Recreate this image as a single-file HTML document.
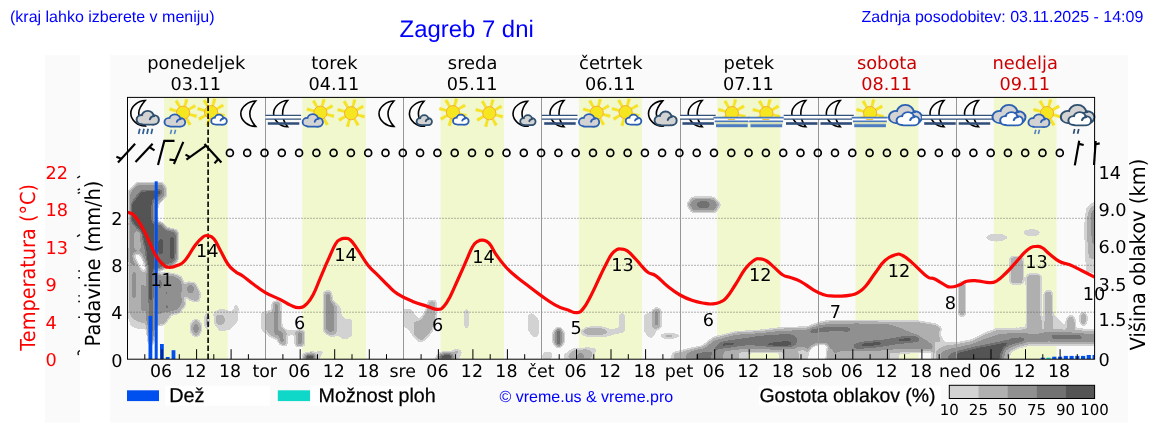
<!DOCTYPE html>
<html lang="sl"><head><meta charset="utf-8"><title>Zagreb 7 dni</title>
<style>
html,body{margin:0;padding:0;background:#fff;}
body{width:1152px;height:443px;overflow:hidden;position:relative;}
svg{position:absolute;left:0;top:0;display:block;will-change:transform;}
text{text-rendering:geometricPrecision;}
.a{font-family:"Liberation Sans",sans-serif;}
.d{font-family:"DejaVu Sans","Liberation Sans",sans-serif;}
</style></head><body>
<svg width="1152" height="443" viewBox="0 0 1152 443">
<defs>
<clipPath id="plotclip"><rect x="127.5" y="97.4" width="967.1" height="261.8"/></clipPath>

</defs>
<rect x="45" y="55" width="35" height="367.5" fill="#fafafa"/>
<rect x="110" y="55" width="1018" height="367.5" fill="#fafafa"/>
<rect x="164.0" y="97.4" width="63.7" height="261.8" fill="#f1f8cd"/>
<rect x="302.3" y="97.4" width="63.6" height="261.8" fill="#f1f8cd"/>
<rect x="440.6" y="97.4" width="63.4" height="261.8" fill="#f1f8cd"/>
<rect x="578.9" y="97.4" width="63.2" height="261.8" fill="#f1f8cd"/>
<rect x="717.2" y="97.4" width="63.1" height="261.8" fill="#f1f8cd"/>
<rect x="855.5" y="97.4" width="63.0" height="261.8" fill="#f1f8cd"/>
<rect x="993.8" y="97.4" width="62.8" height="261.8" fill="#f1f8cd"/>
<filter id="cl" filterUnits="userSpaceOnUse" x="100" y="150" width="1020" height="230" color-interpolation-filters="sRGB"><feGaussianBlur stdDeviation="1.7"/><feColorMatrix type="matrix" values="1 0 0 0 0 0 1 0 0 0 0 0 1 0 0 1 0 0 0 0"/><feComponentTransfer><feFuncR type="discrete" tableValues="1.000 1.000 0.824 0.824 0.824 0.690 0.690 0.690 0.690 0.690 0.565 0.565 0.565 0.565 0.565 0.447 0.447 0.447 0.333 0.333"/><feFuncG type="discrete" tableValues="1.000 1.000 0.824 0.824 0.824 0.690 0.690 0.690 0.690 0.690 0.565 0.565 0.565 0.565 0.565 0.447 0.447 0.447 0.333 0.333"/><feFuncB type="discrete" tableValues="1.000 1.000 0.824 0.824 0.824 0.690 0.690 0.690 0.690 0.690 0.565 0.565 0.565 0.565 0.565 0.447 0.447 0.447 0.333 0.333"/><feFuncA type="discrete" tableValues="0 0 1 1 1 1 1 1 1 1 1 1 1 1 1 1 1 1 1 1"/></feComponentTransfer></filter><g clip-path="url(#plotclip)"><g filter="url(#cl)"><rect x="90" y="140" width="1040" height="250" fill="#000"/><polygon points="128.6,200.0 128.6,190.4 136.4,182.0 162.4,182.0 166.5,186.5 166.8,196.0 158.5,205.0 156.9,212.0 158.0,222.0 150.0,226.0 128.6,226.0" fill="#2e2e2e"/>
<polygon points="129.3,226.0 129.3,192.5 137.6,184.0 161.8,184.0 164.9,187.5 165.1,195.6 157.5,203.5 155.8,211.0 156.6,224.0 150.0,226.0" fill="#a1a1a1"/>
<polygon points="130.8,228.0 130.8,204.0 141.0,190.4 161.8,189.9 162.4,192.7 157.9,196.2 153.2,200.6 152.4,207.3 152.6,230.0 140.0,232.0" fill="#fafafa"/>
<polygon points="129.0,222.0 156.5,222.0 156.5,300.0 155.5,330.0 153.0,342.0 150.5,346.0 148.5,340.0 147.5,328.0 140.0,328.5 131.0,326.0 128.7,318.0" fill="#a1a1a1"/>
<polygon points="129.5,264.0 147.5,268.0 147.6,327.0 140.0,328.5 131.0,326.0 128.7,318.0" fill="#616161"/>
<polyline points="134.2,272.0 134.0,298.0" fill="none" stroke="#a1a1a1" stroke-width="3.2" stroke-linecap="round" stroke-linejoin="round"/>
<polyline points="142.6,286.0 143.0,310.0" fill="none" stroke="#a1a1a1" stroke-width="4.0" stroke-linecap="round" stroke-linejoin="round"/>
<ellipse cx="138.5" cy="323.5" rx="1.6" ry="1.4" fill="#a1a1a1"/>
<polygon points="128.7,312.0 133.0,318.0 140.0,322.0 147.5,322.0 147.5,329.0 140.0,329.5 131.0,327.0 128.7,319.0" fill="#2e2e2e"/>
<polygon points="134.2,231.0 140.8,231.0 140.8,250.0 134.2,250.0" fill="#616161"/>
<ellipse cx="137.8" cy="235.5" rx="1.8" ry="2.5" fill="#2e2e2e"/>
<polygon points="133.2,253.0 140.5,252.0 146.6,265.0 146.9,273.5 142.0,272.0 136.6,264.0 133.4,259.0" fill="#2e2e2e"/>
<polygon points="134.6,255.0 139.6,254.4 145.6,266.5 145.9,271.6 142.6,270.4 137.6,262.5" fill="#000000"/>
<polygon points="131.9,222.0 153.9,222.0 154.2,300.0 154.0,322.0 152.0,338.0 149.5,338.0 147.7,322.0 147.4,272.0 145.4,250.2 140.9,233.3" fill="#fafafa"/>
<polygon points="147.5,300.0 154.2,300.0 154.0,324.0 152.0,340.0 149.5,340.0 147.6,324.0" fill="#d4d4d4"/>
<polygon points="154.0,222.0 157.3,222.6 161.3,223.2 166.9,228.8 175.9,230.5 177.6,234.4 177.2,259.3 173.6,264.5 166.9,266.0 161.3,269.5 154.0,270.0" fill="#d4d4d4"/>
<polyline points="160.7,241.0 160.7,252.5" fill="none" stroke="#fafafa" stroke-width="4.6" stroke-linecap="round" stroke-linejoin="round"/>
<polyline points="171.9,238.0 171.9,258.0" fill="none" stroke="#fafafa" stroke-width="3.6" stroke-linecap="round" stroke-linejoin="round"/>
<polygon points="154.0,270.0 157.2,273.5 171.4,273.5 180.9,276.6 184.0,284.5 187.2,282.2 195.1,283.0 200.6,294.0 198.2,301.9 190.3,300.3 184.0,295.6 185.6,305.0 179.3,313.0 171.4,314.6 165.0,324.0 158.0,325.6 154.0,326.0" fill="#616161"/>
<polygon points="157.0,272.0 160.4,275.5 172.0,275.5 180.0,279.0 182.4,286.0 181.0,294.0 182.0,302.0 178.0,309.0 171.0,311.5 163.0,312.0 158.0,316.0 157.0,300.0" fill="#a1a1a1"/>
<ellipse cx="166.7" cy="293.2" rx="1.8" ry="2.6" fill="#d4d4d4"/>
<ellipse cx="166.7" cy="306.6" rx="2.0" ry="2.8" fill="#d4d4d4"/>
<ellipse cx="173.0" cy="280.6" rx="1.6" ry="1.6" fill="#d4d4d4"/>
<ellipse cx="160.0" cy="284.0" rx="2.2" ry="6.0" fill="#d4d4d4"/>
<ellipse cx="190.6" cy="289.2" rx="3.4" ry="4.6" fill="#a1a1a1"/>
<ellipse cx="196.0" cy="328.0" rx="5.5" ry="8.5" fill="#616161"/>
<ellipse cx="196.0" cy="328.5" rx="2.8" ry="5.0" fill="#a1a1a1"/>
<ellipse cx="207.0" cy="321.0" rx="3.2" ry="9.0" fill="#2e2e2e"/>
<ellipse cx="207.0" cy="321.0" rx="1.4" ry="5.0" fill="#616161"/>
<polygon points="213.0,312.0 222.0,308.0 232.0,312.0 235.0,304.0 239.0,306.0 238.0,322.0 230.0,330.0 220.0,332.0 214.0,324.0" fill="#2e2e2e"/>
<ellipse cx="220.0" cy="320.0" rx="4.5" ry="5.0" fill="#616161"/>
<polygon points="261.0,312.0 266.0,310.5 272.0,310.0 272.4,301.0 281.0,300.6 282.0,326.0 287.0,330.0 295.0,330.0 295.5,335.0 287.4,336.0 287.0,346.7 280.0,345.0 277.6,340.0 272.0,338.0 266.0,334.0 261.0,330.0" fill="#2e2e2e"/>
<polygon points="266.5,313.5 272.4,313.0 272.8,302.5 280.6,302.5 281.0,327.0 286.0,331.5 286.5,345.0 281.0,344.0 277.8,338.5 272.6,336.5 267.0,332.0" fill="#616161"/>
<polyline points="276.2,304.5 276.2,334.0" fill="none" stroke="#a1a1a1" stroke-width="3.6" stroke-linecap="round" stroke-linejoin="round"/>
<polyline points="280.5,333.0 281.8,341.5" fill="none" stroke="#a1a1a1" stroke-width="4.2" stroke-linecap="round" stroke-linejoin="round"/>
<polygon points="295.4,330.5 304.2,330.5 304.2,346.0 295.4,346.0" fill="#616161"/>
<polyline points="299.8,333.0 299.8,343.5" fill="none" stroke="#a1a1a1" stroke-width="4.2" stroke-linecap="round" stroke-linejoin="round"/>
<polyline points="299.8,336.0 299.8,342.0" fill="none" stroke="#d4d4d4" stroke-width="1.2" stroke-linecap="round" stroke-linejoin="round"/>
<polygon points="323.6,291.0 331.0,290.2 332.5,300.0 336.7,304.0 340.5,306.0 342.0,316.0 346.0,319.0 352.0,318.5 352.3,336.0 345.0,340.6 338.0,336.0 331.0,337.0 323.6,333.0" fill="#2e2e2e"/>
<polygon points="324.4,292.5 330.6,291.8 331.6,301.0 336.0,305.5 336.2,333.0 331.0,335.5 324.4,331.5" fill="#616161"/>
<polygon points="325.6,293.5 330.0,293.0 330.8,302.0 334.8,306.5 334.8,330.0 330.6,332.5 325.6,329.5" fill="#a1a1a1"/>
<polygon points="302.0,353.5 312.0,352.0 319.3,351.0 324.5,350.2 322.0,354.5 319.3,360.0 302.0,360.0" fill="#2e2e2e"/>
<polygon points="304.5,356.0 308.0,353.8 313.0,353.8 315.5,356.0 315.0,360.0 304.5,360.0" fill="#fafafa"/>
<polygon points="402.3,309.0 411.5,308.7 416.0,316.0 420.4,318.5 425.6,310.0 428.0,300.0 436.3,300.0 436.8,318.0 432.6,332.0 424.0,341.5 418.0,342.5 412.0,335.0 407.0,328.5 402.3,327.0" fill="#2e2e2e"/>
<polygon points="414.0,322.5 420.4,320.9 426.9,311.1 428.8,301.6 435.2,301.6 435.8,316.0 431.0,330.7 422.0,340.4 414.7,335.5" fill="#616161"/>
<polyline points="466.6,310.5 466.6,326.5" fill="none" stroke="#4c4c4c" stroke-width="3.2" stroke-linecap="round" stroke-linejoin="round"/>
<polygon points="432.6,360.0 438.3,352.6 449.7,351.8 456.2,348.5 462.7,351.0 461.0,355.0 458.6,360.0" fill="#2e2e2e"/>
<polygon points="439.0,356.0 442.0,353.4 452.0,353.4 453.6,356.0 452.9,360.0 439.0,360.0" fill="#fafafa"/>
<ellipse cx="456.2" cy="351.8" rx="2.4" ry="1.6" fill="#616161"/>
<polygon points="527.6,314.7 531.3,312.4 535.1,314.7 539.4,320.0 539.4,332.8 536.6,338.1 533.6,337.4 527.6,330.5" fill="#2e2e2e"/>
<polygon points="553.0,332.0 558.6,326.8 564.2,332.0 564.2,343.0 558.6,348.0 553.0,343.0" fill="#616161"/>
<polyline points="558.6,331.5 558.6,343.5" fill="none" stroke="#fafafa" stroke-width="4.4" stroke-linecap="round" stroke-linejoin="round"/>
<polygon points="542.0,359.5 542.0,354.0 546.0,351.0 552.5,352.0 552.5,359.5" fill="#2e2e2e"/>
<polygon points="562.4,359.5 564.0,354.0 572.0,348.5 590.0,347.2 598.7,349.0 594.0,354.0 592.6,359.5" fill="#2e2e2e"/>
<polygon points="568.4,359.5 569.5,354.0 575.0,350.0 588.0,349.6 592.0,353.0 591.0,359.5" fill="#616161"/>
<polygon points="576.7,359.5 577.0,353.5 584.0,353.5 584.3,359.5" fill="#a1a1a1"/>
<polygon points="579.8,331.7 586.0,327.0 600.0,326.0 612.0,329.0 619.0,327.5 619.0,313.0 625.0,313.0 625.0,332.8 616.8,334.0 606.0,337.0 590.0,337.4 583.0,336.0" fill="#2e2e2e"/>
<polygon points="581.6,331.5 587.0,328.6 600.0,328.3 608.5,331.4 602.0,334.4 588.0,334.6" fill="#616161"/>
<polyline points="587.0,331.4 603.0,331.2" fill="none" stroke="#a1a1a1" stroke-width="1.6" stroke-linecap="round" stroke-linejoin="round"/>
<polygon points="643.3,314.7 651.6,311.6 656.1,307.1 661.4,310.1 661.4,327.5 656.1,331.3 654.6,335.8 650.1,338.9 643.3,331.3" fill="#2e2e2e"/>
<polygon points="652.2,311.0 656.3,308.2 660.6,310.5 660.6,326.5 656.3,329.0 652.2,327.0" fill="#616161"/>
<polyline points="656.5,311.5 656.5,324.5" fill="none" stroke="#a1a1a1" stroke-width="3.4" stroke-linecap="round" stroke-linejoin="round"/>
<ellipse cx="669.6" cy="335.9" rx="10.6" ry="3.1" fill="#2e2e2e"/>
<ellipse cx="669.0" cy="335.9" rx="5.0" ry="1.2" fill="#616161"/>
<polygon points="686.2,204.6 691.5,197.0 714.5,197.0 721.6,204.6 716.0,212.8 691.5,212.8" fill="#2e2e2e"/>
<polygon points="688.6,204.6 693.0,198.6 713.0,198.6 718.6,204.6 714.0,211.2 693.0,211.2" fill="#a1a1a1"/>
<polygon points="695.5,204.6 698.5,200.8 708.0,200.8 711.0,204.6 708.0,208.6 698.5,208.6" fill="#d4d4d4"/>
<ellipse cx="703.2" cy="204.8" rx="2.2" ry="1.2" fill="#fafafa"/>
<polygon points="668.0,362.0 673.0,352.3 692.3,347.6 702.5,345.6 713.3,336.8 735.0,331.4 760.9,329.7 780.2,327.3 807.0,326.5 819.0,322.0 829.0,320.1 858.7,319.8 918.3,320.6 936.2,323.6 942.2,328.0 940.7,334.7 945.0,342.2 950.0,346.0 950.0,362.0" fill="#2e2e2e"/>
<polygon points="676.0,362.0 673.0,353.9 692.3,349.2 702.5,347.2 713.3,338.4 735.0,333.0 760.9,331.3 780.2,328.9 807.0,328.1 819.0,323.6 829.0,321.7 858.7,321.4 918.3,322.2 936.2,325.2 942.2,329.6 939.5,329.0 938.0,335.0 942.0,343.0 947.0,349.0 947.0,362.0" fill="#616161"/>
<polygon points="685.0,362.0 687.0,353.0 694.0,350.0 704.0,348.0 715.0,340.3 735.0,334.6 760.9,332.9 780.2,330.7 806.0,329.8 819.0,325.4 830.0,323.6 858.0,323.2 890.0,324.6 903.0,329.0 918.0,335.0 930.0,340.0 936.0,345.0 932.0,349.0 900.0,349.0 880.0,350.5 860.0,350.5 842.0,350.5 833.0,354.0 832.0,362.0 808.0,362.0 806.0,347.0 797.0,346.5 796.0,349.0 780.0,350.0 760.0,349.0 748.0,348.5 735.0,350.0 724.0,351.0 723.0,362.0" fill="#a1a1a1"/>
<polygon points="695.0,362.0 696.0,352.5 712.0,351.5 714.7,347.5 720.0,342.0 735.5,339.0 748.0,337.2 760.0,335.3 780.0,333.9 792.0,334.0 797.3,337.5 797.3,343.0 795.0,346.3 780.0,347.2 760.0,346.2 748.0,345.4 735.0,347.2 719.0,349.6 712.0,353.0 711.0,362.0" fill="#d4d4d4"/>
<polyline points="722.5,344.6 729.0,343.8 734.0,343.8" fill="none" stroke="#fafafa" stroke-width="2.6" stroke-linecap="round" stroke-linejoin="round"/>
<polygon points="765.5,344.0 776.0,342.0 789.0,341.2 792.6,343.8 790.0,346.4 768.0,346.2" fill="#fafafa"/>
<polygon points="723.6,351.5 738.5,351.0 738.5,362.0 723.6,362.0" fill="#616161"/>
<polygon points="738.5,351.5 748.0,352.0 748.0,362.0 738.5,362.0" fill="#2e2e2e"/>
<polygon points="748.0,352.5 778.8,352.0 778.8,362.0 748.0,362.0" fill="#000000"/>
<polygon points="778.8,351.0 783.2,350.6 798.0,350.0 807.0,349.6 807.0,362.0 778.8,362.0" fill="#2e2e2e"/>
<polygon points="783.2,352.0 798.0,351.5 799.0,362.0 783.2,362.0" fill="#616161"/>
<polygon points="807.0,362.0 808.0,351.0 812.0,346.0 818.0,343.8 826.0,343.8 828.6,346.0 827.0,352.0 826.4,362.0" fill="#000000"/>
<polygon points="826.4,362.0 827.5,350.0 833.0,348.0 833.0,362.0" fill="#616161"/>
<polygon points="874.0,351.5 889.0,351.5 889.0,362.0 874.0,362.0" fill="#616161"/>
<polygon points="889.0,352.0 899.0,352.5 899.0,362.0 889.0,362.0" fill="#2e2e2e"/>
<polygon points="899.0,353.0 932.0,351.5 932.0,362.0 899.0,362.0" fill="#000000"/>
<polygon points="932.0,350.5 941.0,349.5 947.0,349.0 950.0,349.0 950.0,362.0 932.0,362.0" fill="#616161"/>
<polyline points="812.0,331.2 824.0,329.5 834.0,328.8 848.0,329.4" fill="none" stroke="#d4d4d4" stroke-width="5.4" stroke-linecap="round" stroke-linejoin="round"/>
<polyline points="857.0,346.2 880.0,343.6 900.0,340.2 916.0,338.8" fill="none" stroke="#d4d4d4" stroke-width="7.5" stroke-linecap="round" stroke-linejoin="round"/>
<polyline points="862.5,344.7 880.0,343.3" fill="none" stroke="#fafafa" stroke-width="3.4" stroke-linecap="round" stroke-linejoin="round"/>
<polyline points="899.5,340.0 910.5,339.5" fill="none" stroke="#fafafa" stroke-width="3.0" stroke-linecap="round" stroke-linejoin="round"/>
<polygon points="905.0,323.0 918.0,322.8 933.0,325.8 938.0,329.0 936.0,335.0 940.0,343.0 934.0,346.0 926.0,340.0 914.0,334.0 903.0,329.0" fill="#616161"/>
<polyline points="920.0,327.6 925.0,327.6" fill="none" stroke="#a1a1a1" stroke-width="1.2" stroke-linecap="round" stroke-linejoin="round"/>
<polyline points="962.0,285.0 962.0,313.0" fill="none" stroke="#616161" stroke-width="6.5" stroke-linecap="round" stroke-linejoin="round"/>
<polygon points="934.0,340.7 945.0,342.0 956.4,342.2 971.3,339.2 986.2,331.8 996.6,328.0 1026.4,327.3 1060.0,327.5 1096.0,329.0 1096.0,346.0 1060.0,345.5 1032.0,345.5 1020.0,348.0 1012.0,352.0 1008.0,362.0 934.0,362.0" fill="#2e2e2e"/>
<polygon points="937.0,350.0 946.0,346.0 956.4,344.5 971.3,341.5 986.2,334.4 997.0,330.5 1026.4,329.8 1060.0,330.0 1096.0,331.5 1096.0,344.0 1060.0,343.6 1030.0,343.6 1018.0,346.5 1009.0,351.0 1005.0,362.0 937.0,362.0" fill="#616161"/>
<polygon points="941.0,352.5 949.0,349.0 956.4,347.4 972.0,344.0 986.0,338.5 998.0,334.5 1012.0,333.0 1030.0,332.6 1060.0,332.6 1096.0,334.0 1096.0,342.0 1060.0,341.6 1028.0,342.0 1016.0,345.0 1006.0,350.0 1002.5,362.0 941.0,362.0" fill="#a1a1a1"/>
<polygon points="947.5,356.0 952.0,352.6 956.4,351.0 975.0,346.6 990.0,343.4 1004.0,340.6 1012.0,338.6 1022.0,337.6 1027.0,339.6 1022.0,342.4 1010.0,345.4 1004.0,349.0 1001.0,362.0 947.5,362.0" fill="#d4d4d4"/>
<polygon points="956.4,362.0 956.8,353.0 978.7,347.6 996.6,344.2 1006.0,342.0 1008.0,344.0 1003.0,348.0 1000.5,353.0 999.0,362.0" fill="#fafafa"/>
<polyline points="1011.0,340.6 1021.0,339.4" fill="none" stroke="#fafafa" stroke-width="2.4" stroke-linecap="round" stroke-linejoin="round"/>
<polyline points="1053.0,337.0 1066.0,336.4 1080.0,337.2" fill="none" stroke="#d4d4d4" stroke-width="5.2" stroke-linecap="round" stroke-linejoin="round"/>
<rect x="1009.9" y="256.8" width="13.3" height="27.2" rx="3.0" fill="#616161"/>
<rect x="1026.5" y="274.2" width="14.5" height="59.8" rx="3.0" fill="#616161"/>
<rect x="1044.6" y="290.8" width="7.6" height="41.2" rx="3.0" fill="#616161"/>
<polygon points="1041.0,318.0 1044.6,318.0 1044.6,330.0 1041.0,330.0" fill="#2e2e2e"/>
<polygon points="1052.0,312.0 1058.0,318.0 1064.0,324.0 1066.0,330.0 1052.0,330.0" fill="#2e2e2e"/>
<ellipse cx="1070.8" cy="324.0" rx="4.6" ry="8.5" fill="#616161"/>
<ellipse cx="1083.4" cy="318.7" rx="3.6" ry="6.6" fill="#616161"/>
<ellipse cx="996.6" cy="237.5" rx="11.5" ry="4.0" fill="#2e2e2e"/>
<ellipse cx="996.3" cy="238.6" rx="2.6" ry="0.9" fill="#616161"/>
<ellipse cx="1031.7" cy="232.8" rx="8.8" ry="3.8" fill="#2e2e2e"/>
<polygon points="1086.0,272.0 1084.5,250.0 1084.0,225.0 1086.0,208.0 1092.0,202.0 1100.0,202.0 1100.0,274.0" fill="#2e2e2e"/>
<polygon points="1089.5,258.0 1087.5,235.0 1088.0,214.0 1092.0,206.0 1100.0,206.0 1100.0,260.0" fill="#616161"/>
<polygon points="1092.5,244.0 1090.6,228.0 1091.0,214.0 1094.0,209.0 1100.0,209.0 1100.0,246.0" fill="#a1a1a1"/></g></g>
<line x1="127.5" y1="218.3" x2="1094.6" y2="218.3" stroke="#505050" stroke-width="0.85" stroke-dasharray="1 2"/>
<line x1="127.5" y1="265.3" x2="1094.6" y2="265.3" stroke="#505050" stroke-width="0.85" stroke-dasharray="1 2"/>
<line x1="127.5" y1="312.2" x2="1094.6" y2="312.2" stroke="#505050" stroke-width="0.85" stroke-dasharray="1 2"/>
<line x1="265.5" y1="97.4" x2="265.5" y2="359.2" stroke="#979797" stroke-width="1"/>
<line x1="403.5" y1="97.4" x2="403.5" y2="359.2" stroke="#979797" stroke-width="1"/>
<line x1="541.5" y1="97.4" x2="541.5" y2="359.2" stroke="#979797" stroke-width="1"/>
<line x1="680.5" y1="97.4" x2="680.5" y2="359.2" stroke="#979797" stroke-width="1"/>
<line x1="818.5" y1="97.4" x2="818.5" y2="359.2" stroke="#979797" stroke-width="1"/>
<line x1="956.5" y1="97.4" x2="956.5" y2="359.2" stroke="#979797" stroke-width="1"/>
<g clip-path="url(#plotclip)"><rect x="148.5" y="315.9" width="3.8" height="43.1" fill="#0050f0"/><rect x="154.7" y="181.3" width="3.0" height="177.7" fill="#0050f0"/><rect x="160.0" y="344.0" width="3.8" height="15.0" fill="#0050f0"/><rect x="165.8" y="357.0" width="3.8" height="2.0" fill="#0050f0"/><rect x="171.6" y="350.2" width="3.8" height="8.8" fill="#0050f0"/><rect x="1040.7" y="357.7" width="4.2" height="1.3" fill="#0050f0"/><rect x="1046.4" y="357.7" width="4.2" height="1.3" fill="#10d8c8"/><rect x="1052.2" y="356.7" width="4.2" height="2.3" fill="#0050f0"/><rect x="1058.0" y="356.7" width="4.2" height="2.3" fill="#0050f0"/><rect x="1063.7" y="355.9" width="4.2" height="3.1" fill="#0050f0"/><rect x="1069.5" y="355.9" width="4.2" height="3.1" fill="#0050f0"/><rect x="1075.2" y="355.9" width="4.2" height="3.1" fill="#0050f0"/><rect x="1081.0" y="355.9" width="4.2" height="3.1" fill="#0050f0"/><rect x="1086.7" y="355.0" width="4.2" height="4.0" fill="#0050f0"/><rect x="1092.5" y="355.0" width="4.2" height="4.0" fill="#0050f0"/></g>
<clipPath id="sunclip"><rect x="-20" y="-20" width="40" height="24.5"/></clipPath><g transform="translate(144.7 113.5)"><path d="M0.5 -13.0 C-6.5 -12.8 -13.9 -7.3 -13.9 -0.3 C-13.9 6.7 -6.5 12.7 0.5 12.4 C-3.0 8.4 -6.0 4.7 -6.0 -0.3 C-6.0 -5.3 -3.0 -9.0 0.5 -13.0Z" fill="#fcfcfc" stroke="#000" stroke-width="1.6" stroke-linejoin="miter"/><g transform="translate(-7.88 -2.48) scale(0.963 0.893)"><g fill="#2e4f6e" stroke="#2e4f6e" stroke-width="4.10"><circle cx="4.9" cy="9.6" r="4.1"/><circle cx="11.3" cy="5.9" r="5.1"/><circle cx="17.6" cy="9.9" r="4.3"/><rect x="4.9" y="8.5" width="12.7" height="5.7" rx="2"/></g><g fill="#d3d3d3"><circle cx="4.9" cy="9.6" r="4.1"/><circle cx="11.3" cy="5.9" r="5.1"/><circle cx="17.6" cy="9.9" r="4.3"/><rect x="4.9" y="8.5" width="12.7" height="5.7" rx="2"/></g><path d="M13.6 9.3 C14 7.3 15.6 5.9 18 5.8" fill="none" stroke="#2e4f6e" stroke-width="2.05" stroke-linecap="round"/></g><line x1="-4.9" y1="15.2" x2="-6.1" y2="20.5" stroke="#2d5d90" stroke-width="1.7"/><line x1="-0.7" y1="15.2" x2="-1.9" y2="20.5" stroke="#2d5d90" stroke-width="1.7"/><line x1="3.5" y1="15.2" x2="2.3" y2="20.5" stroke="#2d5d90" stroke-width="1.7"/><line x1="7.7" y1="15.2" x2="6.5" y2="20.5" stroke="#2d5d90" stroke-width="1.7"/></g>
<g transform="translate(179.2 113.5)"><g transform="translate(3.9 -0.8)"><polygon points="5.70,2.67 13.04,5.05 13.81,2.15 6.27,0.54" fill="#f6e420" stroke="#f2d83a" stroke-width="0.3"/><polygon points="2.15,5.92 5.65,12.79 8.25,11.29 4.05,4.82" fill="#f6e420" stroke="#f2d83a" stroke-width="0.3"/><polygon points="-2.67,5.70 -5.05,13.04 -2.15,13.81 -0.54,6.27" fill="#f6e420" stroke="#f2d83a" stroke-width="0.3"/><polygon points="-5.92,2.15 -12.79,5.65 -11.29,8.25 -4.82,4.05" fill="#f6e420" stroke="#f2d83a" stroke-width="0.3"/><polygon points="-5.70,-2.67 -13.04,-5.05 -13.81,-2.15 -6.27,-0.54" fill="#f6e420" stroke="#f2d83a" stroke-width="0.3"/><polygon points="-2.15,-5.92 -5.65,-12.79 -8.25,-11.29 -4.05,-4.82" fill="#f6e420" stroke="#f2d83a" stroke-width="0.3"/><polygon points="2.67,-5.70 5.05,-13.04 2.15,-13.81 0.54,-6.27" fill="#f6e420" stroke="#f2d83a" stroke-width="0.3"/><polygon points="5.92,-2.15 12.79,-5.65 11.29,-8.25 4.82,-4.05" fill="#f6e420" stroke="#f2d83a" stroke-width="0.3"/><circle r="6.6" fill="#f6e61f" stroke="#f4a735" stroke-width="0.9"/></g><g transform="translate(-14.46 1.04) scale(0.890 0.786)"><g fill="#2b5fb4" stroke="#2b5fb4" stroke-width="4.30"><circle cx="4.9" cy="9.6" r="4.1"/><circle cx="11.3" cy="5.9" r="5.1"/><circle cx="17.6" cy="9.9" r="4.3"/><rect x="4.9" y="8.5" width="12.7" height="5.7" rx="2"/></g><g fill="#d3d3d3"><circle cx="4.9" cy="9.6" r="4.1"/><circle cx="11.3" cy="5.9" r="5.1"/><circle cx="17.6" cy="9.9" r="4.3"/><rect x="4.9" y="8.5" width="12.7" height="5.7" rx="2"/></g><path d="M13.6 9.3 C14 7.3 15.6 5.9 18 5.8" fill="none" stroke="#2b5fb4" stroke-width="2.15" stroke-linecap="round"/></g><line x1="-7.6" y1="16.2" x2="-8.8" y2="20.5" stroke="#5584c6" stroke-width="1.6"/><line x1="-3.6" y1="16.2" x2="-4.8" y2="20.5" stroke="#5584c6" stroke-width="1.6"/></g>
<g transform="translate(213.8 113.5)"><g transform="translate(-2.7 -1.3)"><polygon points="5.70,2.67 13.04,5.05 13.81,2.15 6.27,0.54" fill="#f6e420" stroke="#f2d83a" stroke-width="0.3"/><polygon points="2.15,5.92 5.65,12.79 8.25,11.29 4.05,4.82" fill="#f6e420" stroke="#f2d83a" stroke-width="0.3"/><polygon points="-2.67,5.70 -5.05,13.04 -2.15,13.81 -0.54,6.27" fill="#f6e420" stroke="#f2d83a" stroke-width="0.3"/><polygon points="-5.92,2.15 -12.79,5.65 -11.29,8.25 -4.82,4.05" fill="#f6e420" stroke="#f2d83a" stroke-width="0.3"/><polygon points="-5.70,-2.67 -13.04,-5.05 -13.81,-2.15 -6.27,-0.54" fill="#f6e420" stroke="#f2d83a" stroke-width="0.3"/><polygon points="-2.15,-5.92 -5.65,-12.79 -8.25,-11.29 -4.05,-4.82" fill="#f6e420" stroke="#f2d83a" stroke-width="0.3"/><polygon points="2.67,-5.70 5.05,-13.04 2.15,-13.81 0.54,-6.27" fill="#f6e420" stroke="#f2d83a" stroke-width="0.3"/><polygon points="5.92,-2.15 12.79,-5.65 11.29,-8.25 4.82,-4.05" fill="#f6e420" stroke="#f2d83a" stroke-width="0.3"/><circle r="6.6" fill="#f6e61f" stroke="#f4a735" stroke-width="0.9"/></g><g transform="translate(-2.16 1.54) scale(0.651 0.609)"><g fill="#2b5fb4" stroke="#2b5fb4" stroke-width="5.71"><circle cx="4.9" cy="9.6" r="4.1"/><circle cx="11.3" cy="5.9" r="5.1"/><circle cx="17.6" cy="9.9" r="4.3"/><rect x="4.9" y="8.5" width="12.7" height="5.7" rx="2"/></g><g fill="#ffffff"><circle cx="4.9" cy="9.6" r="4.1"/><circle cx="11.3" cy="5.9" r="5.1"/><circle cx="17.6" cy="9.9" r="4.3"/><rect x="4.9" y="8.5" width="12.7" height="5.7" rx="2"/></g><path d="M13.6 9.3 C14 7.3 15.6 5.9 18 5.8" fill="none" stroke="#2b5fb4" stroke-width="2.86" stroke-linecap="round"/></g></g>
<g transform="translate(248.3 113.5)"><path d="M7.4 -12.5 C0.4 -12.3 -7.5 -6.8 -7.5 0.2 C-7.5 7.2 0.4 13.2 7.4 12.9 C3.9 8.9 1.5 5.2 1.5 0.2 C1.5 -4.8 3.9 -8.5 7.4 -12.5Z" fill="#fcfcfc" stroke="#000" stroke-width="1.6" stroke-linejoin="miter"/></g>
<g transform="translate(282.8 113.5)"><path d="M4.8 -13.0 C-2.2 -12.8 -9.2 -6.9 -9.2 0.1 C-9.2 7.1 -2.2 13.5 4.8 13.2 C1.3 9.2 -0.2 5.1 -0.2 0.1 C-0.2 -4.9 1.3 -9.0 4.8 -13.0Z" fill="#fcfcfc" stroke="#000" stroke-width="1.6" stroke-linejoin="miter"/><rect x="-17.3" y="2.4" width="35.6" height="3.2" fill="#fff"/><line x1="-17.3" y1="1.9" x2="18.3" y2="1.9" stroke="#33527a" stroke-width="1.2"/><line x1="-17.3" y1="5.7" x2="18.3" y2="5.7" stroke="#33527a" stroke-width="1.2"/><line x1="-15" y1="10" x2="16.5" y2="10" stroke="#2f4d78" stroke-width="2.6"/></g>
<g transform="translate(317.4 113.5)"><g transform="translate(3.0 -0.8)"><polygon points="5.70,2.67 13.04,5.05 13.81,2.15 6.27,0.54" fill="#f6e420" stroke="#f2d83a" stroke-width="0.3"/><polygon points="2.15,5.92 5.65,12.79 8.25,11.29 4.05,4.82" fill="#f6e420" stroke="#f2d83a" stroke-width="0.3"/><polygon points="-2.67,5.70 -5.05,13.04 -2.15,13.81 -0.54,6.27" fill="#f6e420" stroke="#f2d83a" stroke-width="0.3"/><polygon points="-5.92,2.15 -12.79,5.65 -11.29,8.25 -4.82,4.05" fill="#f6e420" stroke="#f2d83a" stroke-width="0.3"/><polygon points="-5.70,-2.67 -13.04,-5.05 -13.81,-2.15 -6.27,-0.54" fill="#f6e420" stroke="#f2d83a" stroke-width="0.3"/><polygon points="-2.15,-5.92 -5.65,-12.79 -8.25,-11.29 -4.05,-4.82" fill="#f6e420" stroke="#f2d83a" stroke-width="0.3"/><polygon points="2.67,-5.70 5.05,-13.04 2.15,-13.81 0.54,-6.27" fill="#f6e420" stroke="#f2d83a" stroke-width="0.3"/><polygon points="5.92,-2.15 12.79,-5.65 11.29,-8.25 4.82,-4.05" fill="#f6e420" stroke="#f2d83a" stroke-width="0.3"/><circle r="6.6" fill="#f6e61f" stroke="#f4a735" stroke-width="0.9"/></g><g transform="translate(-14.56 0.74) scale(0.873 0.812)"><g fill="#2b5fb4" stroke="#2b5fb4" stroke-width="4.27"><circle cx="4.9" cy="9.6" r="4.1"/><circle cx="11.3" cy="5.9" r="5.1"/><circle cx="17.6" cy="9.9" r="4.3"/><rect x="4.9" y="8.5" width="12.7" height="5.7" rx="2"/></g><g fill="#d3d3d3"><circle cx="4.9" cy="9.6" r="4.1"/><circle cx="11.3" cy="5.9" r="5.1"/><circle cx="17.6" cy="9.9" r="4.3"/><rect x="4.9" y="8.5" width="12.7" height="5.7" rx="2"/></g><path d="M13.6 9.3 C14 7.3 15.6 5.9 18 5.8" fill="none" stroke="#2b5fb4" stroke-width="2.14" stroke-linecap="round"/></g></g>
<g transform="translate(351.9 113.5)"><g transform="translate(-0.8 -0.3)"><polygon points="5.70,2.67 13.04,5.05 13.81,2.15 6.27,0.54" fill="#f6e420" stroke="#f2d83a" stroke-width="0.3"/><polygon points="2.15,5.92 5.65,12.79 8.25,11.29 4.05,4.82" fill="#f6e420" stroke="#f2d83a" stroke-width="0.3"/><polygon points="-2.67,5.70 -5.05,13.04 -2.15,13.81 -0.54,6.27" fill="#f6e420" stroke="#f2d83a" stroke-width="0.3"/><polygon points="-5.92,2.15 -12.79,5.65 -11.29,8.25 -4.82,4.05" fill="#f6e420" stroke="#f2d83a" stroke-width="0.3"/><polygon points="-5.70,-2.67 -13.04,-5.05 -13.81,-2.15 -6.27,-0.54" fill="#f6e420" stroke="#f2d83a" stroke-width="0.3"/><polygon points="-2.15,-5.92 -5.65,-12.79 -8.25,-11.29 -4.05,-4.82" fill="#f6e420" stroke="#f2d83a" stroke-width="0.3"/><polygon points="2.67,-5.70 5.05,-13.04 2.15,-13.81 0.54,-6.27" fill="#f6e420" stroke="#f2d83a" stroke-width="0.3"/><polygon points="5.92,-2.15 12.79,-5.65 11.29,-8.25 4.82,-4.05" fill="#f6e420" stroke="#f2d83a" stroke-width="0.3"/><circle r="6.6" fill="#f6e61f" stroke="#f4a735" stroke-width="0.9"/></g></g>
<g transform="translate(386.5 113.5)"><path d="M7.4 -12.5 C0.4 -12.3 -7.5 -6.8 -7.5 0.2 C-7.5 7.2 0.4 13.2 7.4 12.9 C3.9 8.9 1.5 5.2 1.5 0.2 C1.5 -4.8 3.9 -8.5 7.4 -12.5Z" fill="#fcfcfc" stroke="#000" stroke-width="1.6" stroke-linejoin="miter"/></g>
<g transform="translate(421.0 113.5)"><path d="M3.0 -12.2 C-4.0 -12.0 -11.6 -6.7 -11.6 0.3 C-11.6 7.3 -4.0 13.1 3.0 12.8 C-0.5 8.8 -2.6 5.3 -2.6 0.3 C-2.6 -4.7 -0.5 -8.2 3.0 -12.2Z" fill="#fcfcfc" stroke="#000" stroke-width="1.6" stroke-linejoin="miter"/><g transform="translate(-3.96 2.14) scale(0.638 0.603)"><g fill="#2e4f6e" stroke="#2e4f6e" stroke-width="5.80"><circle cx="4.9" cy="9.6" r="4.1"/><circle cx="11.3" cy="5.9" r="5.1"/><circle cx="17.6" cy="9.9" r="4.3"/><rect x="4.9" y="8.5" width="12.7" height="5.7" rx="2"/></g><g fill="#d3d3d3"><circle cx="4.9" cy="9.6" r="4.1"/><circle cx="11.3" cy="5.9" r="5.1"/><circle cx="17.6" cy="9.9" r="4.3"/><rect x="4.9" y="8.5" width="12.7" height="5.7" rx="2"/></g><path d="M13.6 9.3 C14 7.3 15.6 5.9 18 5.8" fill="none" stroke="#2e4f6e" stroke-width="2.90" stroke-linecap="round"/></g></g>
<g transform="translate(455.6 113.5)"><g transform="translate(-2.7 -1.3)"><polygon points="5.70,2.67 13.04,5.05 13.81,2.15 6.27,0.54" fill="#f6e420" stroke="#f2d83a" stroke-width="0.3"/><polygon points="2.15,5.92 5.65,12.79 8.25,11.29 4.05,4.82" fill="#f6e420" stroke="#f2d83a" stroke-width="0.3"/><polygon points="-2.67,5.70 -5.05,13.04 -2.15,13.81 -0.54,6.27" fill="#f6e420" stroke="#f2d83a" stroke-width="0.3"/><polygon points="-5.92,2.15 -12.79,5.65 -11.29,8.25 -4.82,4.05" fill="#f6e420" stroke="#f2d83a" stroke-width="0.3"/><polygon points="-5.70,-2.67 -13.04,-5.05 -13.81,-2.15 -6.27,-0.54" fill="#f6e420" stroke="#f2d83a" stroke-width="0.3"/><polygon points="-2.15,-5.92 -5.65,-12.79 -8.25,-11.29 -4.05,-4.82" fill="#f6e420" stroke="#f2d83a" stroke-width="0.3"/><polygon points="2.67,-5.70 5.05,-13.04 2.15,-13.81 0.54,-6.27" fill="#f6e420" stroke="#f2d83a" stroke-width="0.3"/><polygon points="5.92,-2.15 12.79,-5.65 11.29,-8.25 4.82,-4.05" fill="#f6e420" stroke="#f2d83a" stroke-width="0.3"/><circle r="6.6" fill="#f6e61f" stroke="#f4a735" stroke-width="0.9"/></g><g transform="translate(-2.16 1.54) scale(0.651 0.609)"><g fill="#2b5fb4" stroke="#2b5fb4" stroke-width="5.71"><circle cx="4.9" cy="9.6" r="4.1"/><circle cx="11.3" cy="5.9" r="5.1"/><circle cx="17.6" cy="9.9" r="4.3"/><rect x="4.9" y="8.5" width="12.7" height="5.7" rx="2"/></g><g fill="#ffffff"><circle cx="4.9" cy="9.6" r="4.1"/><circle cx="11.3" cy="5.9" r="5.1"/><circle cx="17.6" cy="9.9" r="4.3"/><rect x="4.9" y="8.5" width="12.7" height="5.7" rx="2"/></g><path d="M13.6 9.3 C14 7.3 15.6 5.9 18 5.8" fill="none" stroke="#2b5fb4" stroke-width="2.86" stroke-linecap="round"/></g></g>
<g transform="translate(490.1 113.5)"><g transform="translate(-0.8 -0.3)"><polygon points="5.70,2.67 13.04,5.05 13.81,2.15 6.27,0.54" fill="#f6e420" stroke="#f2d83a" stroke-width="0.3"/><polygon points="2.15,5.92 5.65,12.79 8.25,11.29 4.05,4.82" fill="#f6e420" stroke="#f2d83a" stroke-width="0.3"/><polygon points="-2.67,5.70 -5.05,13.04 -2.15,13.81 -0.54,6.27" fill="#f6e420" stroke="#f2d83a" stroke-width="0.3"/><polygon points="-5.92,2.15 -12.79,5.65 -11.29,8.25 -4.82,4.05" fill="#f6e420" stroke="#f2d83a" stroke-width="0.3"/><polygon points="-5.70,-2.67 -13.04,-5.05 -13.81,-2.15 -6.27,-0.54" fill="#f6e420" stroke="#f2d83a" stroke-width="0.3"/><polygon points="-2.15,-5.92 -5.65,-12.79 -8.25,-11.29 -4.05,-4.82" fill="#f6e420" stroke="#f2d83a" stroke-width="0.3"/><polygon points="2.67,-5.70 5.05,-13.04 2.15,-13.81 0.54,-6.27" fill="#f6e420" stroke="#f2d83a" stroke-width="0.3"/><polygon points="5.92,-2.15 12.79,-5.65 11.29,-8.25 4.82,-4.05" fill="#f6e420" stroke="#f2d83a" stroke-width="0.3"/><circle r="6.6" fill="#f6e61f" stroke="#f4a735" stroke-width="0.9"/></g></g>
<g transform="translate(524.6 113.5)"><path d="M3.0 -12.2 C-4.0 -12.0 -11.6 -6.7 -11.6 0.3 C-11.6 7.3 -4.0 13.1 3.0 12.8 C-0.5 8.8 -2.6 5.3 -2.6 0.3 C-2.6 -4.7 -0.5 -8.2 3.0 -12.2Z" fill="#fcfcfc" stroke="#000" stroke-width="1.6" stroke-linejoin="miter"/><g transform="translate(-3.96 2.14) scale(0.638 0.603)"><g fill="#2e4f6e" stroke="#2e4f6e" stroke-width="5.80"><circle cx="4.9" cy="9.6" r="4.1"/><circle cx="11.3" cy="5.9" r="5.1"/><circle cx="17.6" cy="9.9" r="4.3"/><rect x="4.9" y="8.5" width="12.7" height="5.7" rx="2"/></g><g fill="#d3d3d3"><circle cx="4.9" cy="9.6" r="4.1"/><circle cx="11.3" cy="5.9" r="5.1"/><circle cx="17.6" cy="9.9" r="4.3"/><rect x="4.9" y="8.5" width="12.7" height="5.7" rx="2"/></g><path d="M13.6 9.3 C14 7.3 15.6 5.9 18 5.8" fill="none" stroke="#2e4f6e" stroke-width="2.90" stroke-linecap="round"/></g></g>
<g transform="translate(559.2 113.5)"><path d="M4.8 -13.0 C-2.2 -12.8 -9.2 -6.9 -9.2 0.1 C-9.2 7.1 -2.2 13.5 4.8 13.2 C1.3 9.2 -0.2 5.1 -0.2 0.1 C-0.2 -4.9 1.3 -9.0 4.8 -13.0Z" fill="#fcfcfc" stroke="#000" stroke-width="1.6" stroke-linejoin="miter"/><rect x="-17.3" y="2.4" width="35.6" height="3.2" fill="#fff"/><line x1="-17.3" y1="1.9" x2="18.3" y2="1.9" stroke="#33527a" stroke-width="1.2"/><line x1="-17.3" y1="5.7" x2="18.3" y2="5.7" stroke="#33527a" stroke-width="1.2"/><line x1="-15" y1="10" x2="16.5" y2="10" stroke="#2f4d78" stroke-width="2.6"/></g>
<g transform="translate(593.7 113.5)"><g transform="translate(3.0 -0.8)"><polygon points="5.70,2.67 13.04,5.05 13.81,2.15 6.27,0.54" fill="#f6e420" stroke="#f2d83a" stroke-width="0.3"/><polygon points="2.15,5.92 5.65,12.79 8.25,11.29 4.05,4.82" fill="#f6e420" stroke="#f2d83a" stroke-width="0.3"/><polygon points="-2.67,5.70 -5.05,13.04 -2.15,13.81 -0.54,6.27" fill="#f6e420" stroke="#f2d83a" stroke-width="0.3"/><polygon points="-5.92,2.15 -12.79,5.65 -11.29,8.25 -4.82,4.05" fill="#f6e420" stroke="#f2d83a" stroke-width="0.3"/><polygon points="-5.70,-2.67 -13.04,-5.05 -13.81,-2.15 -6.27,-0.54" fill="#f6e420" stroke="#f2d83a" stroke-width="0.3"/><polygon points="-2.15,-5.92 -5.65,-12.79 -8.25,-11.29 -4.05,-4.82" fill="#f6e420" stroke="#f2d83a" stroke-width="0.3"/><polygon points="2.67,-5.70 5.05,-13.04 2.15,-13.81 0.54,-6.27" fill="#f6e420" stroke="#f2d83a" stroke-width="0.3"/><polygon points="5.92,-2.15 12.79,-5.65 11.29,-8.25 4.82,-4.05" fill="#f6e420" stroke="#f2d83a" stroke-width="0.3"/><circle r="6.6" fill="#f6e61f" stroke="#f4a735" stroke-width="0.9"/></g><g transform="translate(-14.56 0.74) scale(0.873 0.812)"><g fill="#2b5fb4" stroke="#2b5fb4" stroke-width="4.27"><circle cx="4.9" cy="9.6" r="4.1"/><circle cx="11.3" cy="5.9" r="5.1"/><circle cx="17.6" cy="9.9" r="4.3"/><rect x="4.9" y="8.5" width="12.7" height="5.7" rx="2"/></g><g fill="#d3d3d3"><circle cx="4.9" cy="9.6" r="4.1"/><circle cx="11.3" cy="5.9" r="5.1"/><circle cx="17.6" cy="9.9" r="4.3"/><rect x="4.9" y="8.5" width="12.7" height="5.7" rx="2"/></g><path d="M13.6 9.3 C14 7.3 15.6 5.9 18 5.8" fill="none" stroke="#2b5fb4" stroke-width="2.14" stroke-linecap="round"/></g></g>
<g transform="translate(628.3 113.5)"><g transform="translate(-2.7 -1.3)"><polygon points="5.70,2.67 13.04,5.05 13.81,2.15 6.27,0.54" fill="#f6e420" stroke="#f2d83a" stroke-width="0.3"/><polygon points="2.15,5.92 5.65,12.79 8.25,11.29 4.05,4.82" fill="#f6e420" stroke="#f2d83a" stroke-width="0.3"/><polygon points="-2.67,5.70 -5.05,13.04 -2.15,13.81 -0.54,6.27" fill="#f6e420" stroke="#f2d83a" stroke-width="0.3"/><polygon points="-5.92,2.15 -12.79,5.65 -11.29,8.25 -4.82,4.05" fill="#f6e420" stroke="#f2d83a" stroke-width="0.3"/><polygon points="-5.70,-2.67 -13.04,-5.05 -13.81,-2.15 -6.27,-0.54" fill="#f6e420" stroke="#f2d83a" stroke-width="0.3"/><polygon points="-2.15,-5.92 -5.65,-12.79 -8.25,-11.29 -4.05,-4.82" fill="#f6e420" stroke="#f2d83a" stroke-width="0.3"/><polygon points="2.67,-5.70 5.05,-13.04 2.15,-13.81 0.54,-6.27" fill="#f6e420" stroke="#f2d83a" stroke-width="0.3"/><polygon points="5.92,-2.15 12.79,-5.65 11.29,-8.25 4.82,-4.05" fill="#f6e420" stroke="#f2d83a" stroke-width="0.3"/><circle r="6.6" fill="#f6e61f" stroke="#f4a735" stroke-width="0.9"/></g><g transform="translate(-2.16 1.54) scale(0.651 0.609)"><g fill="#2b5fb4" stroke="#2b5fb4" stroke-width="5.71"><circle cx="4.9" cy="9.6" r="4.1"/><circle cx="11.3" cy="5.9" r="5.1"/><circle cx="17.6" cy="9.9" r="4.3"/><rect x="4.9" y="8.5" width="12.7" height="5.7" rx="2"/></g><g fill="#ffffff"><circle cx="4.9" cy="9.6" r="4.1"/><circle cx="11.3" cy="5.9" r="5.1"/><circle cx="17.6" cy="9.9" r="4.3"/><rect x="4.9" y="8.5" width="12.7" height="5.7" rx="2"/></g><path d="M13.6 9.3 C14 7.3 15.6 5.9 18 5.8" fill="none" stroke="#2b5fb4" stroke-width="2.86" stroke-linecap="round"/></g></g>
<g transform="translate(662.8 113.5)"><path d="M-0.1 -12.6 C-7.1 -12.4 -14.3 -6.9 -14.3 0.1 C-14.3 7.1 -7.1 13.1 -0.1 12.8 C-3.6 8.8 -6.5 5.1 -6.5 0.1 C-6.5 -4.9 -3.6 -8.6 -0.1 -12.6Z" fill="#fcfcfc" stroke="#000" stroke-width="1.6" stroke-linejoin="miter"/><g transform="translate(-7.98 -1.78) scale(0.954 0.893)"><g fill="#2e4f6e" stroke="#2e4f6e" stroke-width="4.12"><circle cx="4.9" cy="9.6" r="4.1"/><circle cx="11.3" cy="5.9" r="5.1"/><circle cx="17.6" cy="9.9" r="4.3"/><rect x="4.9" y="8.5" width="12.7" height="5.7" rx="2"/></g><g fill="#d3d3d3"><circle cx="4.9" cy="9.6" r="4.1"/><circle cx="11.3" cy="5.9" r="5.1"/><circle cx="17.6" cy="9.9" r="4.3"/><rect x="4.9" y="8.5" width="12.7" height="5.7" rx="2"/></g><path d="M13.6 9.3 C14 7.3 15.6 5.9 18 5.8" fill="none" stroke="#2e4f6e" stroke-width="2.06" stroke-linecap="round"/></g></g>
<g transform="translate(697.4 113.5)"><path d="M4.8 -13.0 C-2.2 -12.8 -9.2 -6.9 -9.2 0.1 C-9.2 7.1 -2.2 13.5 4.8 13.2 C1.3 9.2 -0.2 5.1 -0.2 0.1 C-0.2 -4.9 1.3 -9.0 4.8 -13.0Z" fill="#fcfcfc" stroke="#000" stroke-width="1.6" stroke-linejoin="miter"/><rect x="-17.3" y="2.4" width="35.6" height="3.2" fill="#fff"/><line x1="-17.3" y1="1.9" x2="18.3" y2="1.9" stroke="#33527a" stroke-width="1.2"/><line x1="-17.3" y1="5.7" x2="18.3" y2="5.7" stroke="#33527a" stroke-width="1.2"/><line x1="-15" y1="10" x2="16.5" y2="10" stroke="#2f4d78" stroke-width="2.6"/></g>
<g transform="translate(731.9 113.5)"><g clip-path="url(#sunclip)"><g transform="translate(0.0 -0.4)"><polygon points="5.70,2.67 13.04,5.05 13.81,2.15 6.27,0.54" fill="#f6e420" stroke="#f2d83a" stroke-width="0.3"/><polygon points="2.15,5.92 5.65,12.79 8.25,11.29 4.05,4.82" fill="#f6e420" stroke="#f2d83a" stroke-width="0.3"/><polygon points="-2.67,5.70 -5.05,13.04 -2.15,13.81 -0.54,6.27" fill="#f6e420" stroke="#f2d83a" stroke-width="0.3"/><polygon points="-5.92,2.15 -12.79,5.65 -11.29,8.25 -4.82,4.05" fill="#f6e420" stroke="#f2d83a" stroke-width="0.3"/><polygon points="-5.70,-2.67 -13.04,-5.05 -13.81,-2.15 -6.27,-0.54" fill="#f6e420" stroke="#f2d83a" stroke-width="0.3"/><polygon points="-2.15,-5.92 -5.65,-12.79 -8.25,-11.29 -4.05,-4.82" fill="#f6e420" stroke="#f2d83a" stroke-width="0.3"/><polygon points="2.67,-5.70 5.05,-13.04 2.15,-13.81 0.54,-6.27" fill="#f6e420" stroke="#f2d83a" stroke-width="0.3"/><polygon points="5.92,-2.15 12.79,-5.65 11.29,-8.25 4.82,-4.05" fill="#f6e420" stroke="#f2d83a" stroke-width="0.3"/><circle r="6.6" fill="#f6e61f" stroke="#f4a735" stroke-width="0.9"/></g></g><rect x="-18" y="4.6" width="35.6" height="3" fill="#fff"/><line x1="-18.5" y1="4.1" x2="17.6" y2="4.1" stroke="#4a78bd" stroke-width="1.9"/><line x1="-4" y1="6.1" x2="3" y2="6.1" stroke="#f0c020" stroke-width="1"/><line x1="-17.2" y1="7.9" x2="16.7" y2="7.9" stroke="#4a78bd" stroke-width="1.9"/><rect x="-16" y="8.9" width="32" height="2" fill="#d6dfb8"/><line x1="-15.9" y1="12.2" x2="15.8" y2="12.2" stroke="#4f7cc0" stroke-width="3"/></g>
<g transform="translate(766.4 113.5)"><g clip-path="url(#sunclip)"><g transform="translate(0.0 -0.4)"><polygon points="5.70,2.67 13.04,5.05 13.81,2.15 6.27,0.54" fill="#f6e420" stroke="#f2d83a" stroke-width="0.3"/><polygon points="2.15,5.92 5.65,12.79 8.25,11.29 4.05,4.82" fill="#f6e420" stroke="#f2d83a" stroke-width="0.3"/><polygon points="-2.67,5.70 -5.05,13.04 -2.15,13.81 -0.54,6.27" fill="#f6e420" stroke="#f2d83a" stroke-width="0.3"/><polygon points="-5.92,2.15 -12.79,5.65 -11.29,8.25 -4.82,4.05" fill="#f6e420" stroke="#f2d83a" stroke-width="0.3"/><polygon points="-5.70,-2.67 -13.04,-5.05 -13.81,-2.15 -6.27,-0.54" fill="#f6e420" stroke="#f2d83a" stroke-width="0.3"/><polygon points="-2.15,-5.92 -5.65,-12.79 -8.25,-11.29 -4.05,-4.82" fill="#f6e420" stroke="#f2d83a" stroke-width="0.3"/><polygon points="2.67,-5.70 5.05,-13.04 2.15,-13.81 0.54,-6.27" fill="#f6e420" stroke="#f2d83a" stroke-width="0.3"/><polygon points="5.92,-2.15 12.79,-5.65 11.29,-8.25 4.82,-4.05" fill="#f6e420" stroke="#f2d83a" stroke-width="0.3"/><circle r="6.6" fill="#f6e61f" stroke="#f4a735" stroke-width="0.9"/></g></g><rect x="-18" y="4.6" width="35.6" height="3" fill="#fff"/><line x1="-18.5" y1="4.1" x2="17.6" y2="4.1" stroke="#4a78bd" stroke-width="1.9"/><line x1="-4" y1="6.1" x2="3" y2="6.1" stroke="#f0c020" stroke-width="1"/><line x1="-17.2" y1="7.9" x2="16.7" y2="7.9" stroke="#4a78bd" stroke-width="1.9"/><rect x="-16" y="8.9" width="32" height="2" fill="#d6dfb8"/><line x1="-15.9" y1="12.2" x2="15.8" y2="12.2" stroke="#4f7cc0" stroke-width="3"/></g>
<g transform="translate(801.0 113.5)"><path d="M4.8 -13.0 C-2.2 -12.8 -9.2 -6.9 -9.2 0.1 C-9.2 7.1 -2.2 13.5 4.8 13.2 C1.3 9.2 -0.2 5.1 -0.2 0.1 C-0.2 -4.9 1.3 -9.0 4.8 -13.0Z" fill="#fcfcfc" stroke="#000" stroke-width="1.6" stroke-linejoin="miter"/><rect x="-17.3" y="2.4" width="35.6" height="3.2" fill="#fff"/><line x1="-17.3" y1="1.9" x2="18.3" y2="1.9" stroke="#33527a" stroke-width="1.2"/><line x1="-17.3" y1="5.7" x2="18.3" y2="5.7" stroke="#33527a" stroke-width="1.2"/><line x1="-15" y1="10" x2="16.5" y2="10" stroke="#2f4d78" stroke-width="2.6"/></g>
<g transform="translate(835.5 113.5)"><path d="M4.8 -13.0 C-2.2 -12.8 -9.2 -6.9 -9.2 0.1 C-9.2 7.1 -2.2 13.5 4.8 13.2 C1.3 9.2 -0.2 5.1 -0.2 0.1 C-0.2 -4.9 1.3 -9.0 4.8 -13.0Z" fill="#fcfcfc" stroke="#000" stroke-width="1.6" stroke-linejoin="miter"/><rect x="-17.3" y="2.4" width="35.6" height="3.2" fill="#fff"/><line x1="-17.3" y1="1.9" x2="18.3" y2="1.9" stroke="#33527a" stroke-width="1.2"/><line x1="-17.3" y1="5.7" x2="18.3" y2="5.7" stroke="#33527a" stroke-width="1.2"/><line x1="-15" y1="10" x2="16.5" y2="10" stroke="#2f4d78" stroke-width="2.6"/></g>
<g transform="translate(870.1 113.5)"><g clip-path="url(#sunclip)"><g transform="translate(0.0 -0.4)"><polygon points="5.70,2.67 13.04,5.05 13.81,2.15 6.27,0.54" fill="#f6e420" stroke="#f2d83a" stroke-width="0.3"/><polygon points="2.15,5.92 5.65,12.79 8.25,11.29 4.05,4.82" fill="#f6e420" stroke="#f2d83a" stroke-width="0.3"/><polygon points="-2.67,5.70 -5.05,13.04 -2.15,13.81 -0.54,6.27" fill="#f6e420" stroke="#f2d83a" stroke-width="0.3"/><polygon points="-5.92,2.15 -12.79,5.65 -11.29,8.25 -4.82,4.05" fill="#f6e420" stroke="#f2d83a" stroke-width="0.3"/><polygon points="-5.70,-2.67 -13.04,-5.05 -13.81,-2.15 -6.27,-0.54" fill="#f6e420" stroke="#f2d83a" stroke-width="0.3"/><polygon points="-2.15,-5.92 -5.65,-12.79 -8.25,-11.29 -4.05,-4.82" fill="#f6e420" stroke="#f2d83a" stroke-width="0.3"/><polygon points="2.67,-5.70 5.05,-13.04 2.15,-13.81 0.54,-6.27" fill="#f6e420" stroke="#f2d83a" stroke-width="0.3"/><polygon points="5.92,-2.15 12.79,-5.65 11.29,-8.25 4.82,-4.05" fill="#f6e420" stroke="#f2d83a" stroke-width="0.3"/><circle r="6.6" fill="#f6e61f" stroke="#f4a735" stroke-width="0.9"/></g></g><rect x="-18" y="4.6" width="35.6" height="3" fill="#fff"/><line x1="-18.5" y1="4.1" x2="17.6" y2="4.1" stroke="#4a78bd" stroke-width="1.9"/><line x1="-4" y1="6.1" x2="3" y2="6.1" stroke="#f0c020" stroke-width="1"/><line x1="-17.2" y1="7.9" x2="16.7" y2="7.9" stroke="#4a78bd" stroke-width="1.9"/><rect x="-16" y="8.9" width="32" height="2" fill="#d6dfb8"/><line x1="-15.9" y1="12.2" x2="15.8" y2="12.2" stroke="#4f7cc0" stroke-width="3"/></g>
<g transform="translate(904.6 113.5)"><g transform="translate(-15.88 -8.68) scale(1.467 1.265)"><g fill="#2b5fb4" stroke="#2b5fb4" stroke-width="2.78"><circle cx="4.9" cy="9.6" r="4.1"/><circle cx="11.3" cy="5.9" r="5.1"/><circle cx="17.6" cy="9.9" r="4.3"/><rect x="4.9" y="8.5" width="12.7" height="5.7" rx="2"/></g><g fill="#d3d3d3"><circle cx="4.9" cy="9.6" r="4.1"/><circle cx="11.3" cy="5.9" r="5.1"/><circle cx="17.6" cy="9.9" r="4.3"/><rect x="4.9" y="8.5" width="12.7" height="5.7" rx="2"/></g><path d="M13.6 9.3 C14 7.3 15.6 5.9 18 5.8" fill="none" stroke="#2b5fb4" stroke-width="1.39" stroke-linecap="round"/></g><g transform="translate(-7.78 -1.28) scale(0.981 0.860)"><g fill="#2b5fb4" stroke="#2b5fb4" stroke-width="4.13"><circle cx="4.9" cy="9.6" r="4.1"/><circle cx="11.3" cy="5.9" r="5.1"/><circle cx="17.6" cy="9.9" r="4.3"/><rect x="4.9" y="8.5" width="12.7" height="5.7" rx="2"/></g><g fill="#ffffff"><circle cx="4.9" cy="9.6" r="4.1"/><circle cx="11.3" cy="5.9" r="5.1"/><circle cx="17.6" cy="9.9" r="4.3"/><rect x="4.9" y="8.5" width="12.7" height="5.7" rx="2"/></g><path d="M13.6 9.3 C14 7.3 15.6 5.9 18 5.8" fill="none" stroke="#2b5fb4" stroke-width="2.06" stroke-linecap="round"/></g></g>
<g transform="translate(939.2 113.5)"><path d="M4.8 -13.0 C-2.2 -12.8 -9.2 -6.9 -9.2 0.1 C-9.2 7.1 -2.2 13.5 4.8 13.2 C1.3 9.2 -0.2 5.1 -0.2 0.1 C-0.2 -4.9 1.3 -9.0 4.8 -13.0Z" fill="#fcfcfc" stroke="#000" stroke-width="1.6" stroke-linejoin="miter"/><rect x="-17.3" y="2.4" width="35.6" height="3.2" fill="#fff"/><line x1="-17.3" y1="1.9" x2="18.3" y2="1.9" stroke="#33527a" stroke-width="1.2"/><line x1="-17.3" y1="5.7" x2="18.3" y2="5.7" stroke="#33527a" stroke-width="1.2"/><line x1="-15" y1="10" x2="16.5" y2="10" stroke="#2f4d78" stroke-width="2.6"/></g>
<g transform="translate(973.7 113.5)"><path d="M4.8 -13.0 C-2.2 -12.8 -9.2 -6.9 -9.2 0.1 C-9.2 7.1 -2.2 13.5 4.8 13.2 C1.3 9.2 -0.2 5.1 -0.2 0.1 C-0.2 -4.9 1.3 -9.0 4.8 -13.0Z" fill="#fcfcfc" stroke="#000" stroke-width="1.6" stroke-linejoin="miter"/><rect x="-17.3" y="2.4" width="35.6" height="3.2" fill="#fff"/><line x1="-17.3" y1="1.9" x2="18.3" y2="1.9" stroke="#33527a" stroke-width="1.2"/><line x1="-17.3" y1="5.7" x2="18.3" y2="5.7" stroke="#33527a" stroke-width="1.2"/><line x1="-15" y1="10" x2="16.5" y2="10" stroke="#2f4d78" stroke-width="2.6"/></g>
<g transform="translate(1008.2 113.5)"><g transform="translate(-15.88 -8.68) scale(1.467 1.265)"><g fill="#2b5fb4" stroke="#2b5fb4" stroke-width="2.78"><circle cx="4.9" cy="9.6" r="4.1"/><circle cx="11.3" cy="5.9" r="5.1"/><circle cx="17.6" cy="9.9" r="4.3"/><rect x="4.9" y="8.5" width="12.7" height="5.7" rx="2"/></g><g fill="#d3d3d3"><circle cx="4.9" cy="9.6" r="4.1"/><circle cx="11.3" cy="5.9" r="5.1"/><circle cx="17.6" cy="9.9" r="4.3"/><rect x="4.9" y="8.5" width="12.7" height="5.7" rx="2"/></g><path d="M13.6 9.3 C14 7.3 15.6 5.9 18 5.8" fill="none" stroke="#2b5fb4" stroke-width="1.39" stroke-linecap="round"/></g><g transform="translate(-7.78 -1.28) scale(0.981 0.860)"><g fill="#2b5fb4" stroke="#2b5fb4" stroke-width="4.13"><circle cx="4.9" cy="9.6" r="4.1"/><circle cx="11.3" cy="5.9" r="5.1"/><circle cx="17.6" cy="9.9" r="4.3"/><rect x="4.9" y="8.5" width="12.7" height="5.7" rx="2"/></g><g fill="#ffffff"><circle cx="4.9" cy="9.6" r="4.1"/><circle cx="11.3" cy="5.9" r="5.1"/><circle cx="17.6" cy="9.9" r="4.3"/><rect x="4.9" y="8.5" width="12.7" height="5.7" rx="2"/></g><path d="M13.6 9.3 C14 7.3 15.6 5.9 18 5.8" fill="none" stroke="#2b5fb4" stroke-width="2.06" stroke-linecap="round"/></g></g>
<g transform="translate(1042.8 113.5)"><g transform="translate(4.2 -0.4)"><polygon points="5.70,2.67 13.04,5.05 13.81,2.15 6.27,0.54" fill="#f6e420" stroke="#f2d83a" stroke-width="0.3"/><polygon points="2.15,5.92 5.65,12.79 8.25,11.29 4.05,4.82" fill="#f6e420" stroke="#f2d83a" stroke-width="0.3"/><polygon points="-2.67,5.70 -5.05,13.04 -2.15,13.81 -0.54,6.27" fill="#f6e420" stroke="#f2d83a" stroke-width="0.3"/><polygon points="-5.92,2.15 -12.79,5.65 -11.29,8.25 -4.82,4.05" fill="#f6e420" stroke="#f2d83a" stroke-width="0.3"/><polygon points="-5.70,-2.67 -13.04,-5.05 -13.81,-2.15 -6.27,-0.54" fill="#f6e420" stroke="#f2d83a" stroke-width="0.3"/><polygon points="-2.15,-5.92 -5.65,-12.79 -8.25,-11.29 -4.05,-4.82" fill="#f6e420" stroke="#f2d83a" stroke-width="0.3"/><polygon points="2.67,-5.70 5.05,-13.04 2.15,-13.81 0.54,-6.27" fill="#f6e420" stroke="#f2d83a" stroke-width="0.3"/><polygon points="5.92,-2.15 12.79,-5.65 11.29,-8.25 4.82,-4.05" fill="#f6e420" stroke="#f2d83a" stroke-width="0.3"/><circle r="6.6" fill="#f6e61f" stroke="#f4a735" stroke-width="0.9"/></g><g transform="translate(-14.16 1.04) scale(0.908 0.818)"><g fill="#2b5fb4" stroke="#2b5fb4" stroke-width="4.17"><circle cx="4.9" cy="9.6" r="4.1"/><circle cx="11.3" cy="5.9" r="5.1"/><circle cx="17.6" cy="9.9" r="4.3"/><rect x="4.9" y="8.5" width="12.7" height="5.7" rx="2"/></g><g fill="#d3d3d3"><circle cx="4.9" cy="9.6" r="4.1"/><circle cx="11.3" cy="5.9" r="5.1"/><circle cx="17.6" cy="9.9" r="4.3"/><rect x="4.9" y="8.5" width="12.7" height="5.7" rx="2"/></g><path d="M13.6 9.3 C14 7.3 15.6 5.9 18 5.8" fill="none" stroke="#2b5fb4" stroke-width="2.09" stroke-linecap="round"/></g><line x1="-6.9" y1="16.2" x2="-8.1" y2="20.5" stroke="#4f7fc4" stroke-width="1.6"/><line x1="-3.3" y1="16.2" x2="-4.5" y2="20.5" stroke="#4f7fc4" stroke-width="1.6"/></g>
<g transform="translate(1077.3 113.5)"><g transform="translate(-16.68 -8.68) scale(1.494 1.265)"><g fill="#2e4f6e" stroke="#2e4f6e" stroke-width="2.75"><circle cx="4.9" cy="9.6" r="4.1"/><circle cx="11.3" cy="5.9" r="5.1"/><circle cx="17.6" cy="9.9" r="4.3"/><rect x="4.9" y="8.5" width="12.7" height="5.7" rx="2"/></g><g fill="#d3d3d3"><circle cx="4.9" cy="9.6" r="4.1"/><circle cx="11.3" cy="5.9" r="5.1"/><circle cx="17.6" cy="9.9" r="4.3"/><rect x="4.9" y="8.5" width="12.7" height="5.7" rx="2"/></g><path d="M13.6 9.3 C14 7.3 15.6 5.9 18 5.8" fill="none" stroke="#2e4f6e" stroke-width="1.38" stroke-linecap="round"/></g><g transform="translate(-8.68 -1.28) scale(0.981 0.860)"><g fill="#2e4f6e" stroke="#2e4f6e" stroke-width="4.13"><circle cx="4.9" cy="9.6" r="4.1"/><circle cx="11.3" cy="5.9" r="5.1"/><circle cx="17.6" cy="9.9" r="4.3"/><rect x="4.9" y="8.5" width="12.7" height="5.7" rx="2"/></g><g fill="#ffffff"><circle cx="4.9" cy="9.6" r="4.1"/><circle cx="11.3" cy="5.9" r="5.1"/><circle cx="17.6" cy="9.9" r="4.3"/><rect x="4.9" y="8.5" width="12.7" height="5.7" rx="2"/></g><path d="M13.6 9.3 C14 7.3 15.6 5.9 18 5.8" fill="none" stroke="#2e4f6e" stroke-width="2.06" stroke-linecap="round"/></g><line x1="-2.6" y1="15.5" x2="-3.8" y2="20.3" stroke="#2c4c74" stroke-width="1.7"/><line x1="1.5" y1="15.5" x2="0.3" y2="20.3" stroke="#2c4c74" stroke-width="1.7"/></g>

<g stroke="#000" stroke-width="2.15" fill="none" stroke-linecap="butt"><polyline points="118.0,162.5 135.1,143.8"/><polyline points="116.4,156.8 121.2,158.7"/><polyline points="135.5,162.0 152.6,143.8"/><polyline points="149.5,147.1 154.5,150.3"/><polyline points="158.0,165.0 164.3,140.9 174.5,140.9"/><polyline points="173.9,164.0 183.3,141.8"/><polyline points="169.5,159.6 175.8,160.3"/><polyline points="186.4,159.6 206.4,145.3"/><polyline points="185.5,154.6 190.1,157.1"/><polyline points="204.5,144.0 221.4,162.5"/><polyline points="214.5,163.4 218.3,159.0"/><polyline points="1074.8,165.4 1079.2,140.8"/><polyline points="1079.0,143.9 1083.7,145.0"/><polyline points="1094.0,165.0 1095.7,141.0"/><polyline points="1095.5,144.3 1099.7,143.4"/></g><g stroke="#000" stroke-width="1.7" fill="none"><circle cx="229.9" cy="152.9" r="3.45"/><circle cx="247.2" cy="152.9" r="3.45"/><circle cx="264.5" cy="152.9" r="3.45"/><circle cx="281.8" cy="152.9" r="3.45"/><circle cx="299.1" cy="152.9" r="3.45"/><circle cx="316.4" cy="152.9" r="3.45"/><circle cx="333.6" cy="152.9" r="3.45"/><circle cx="350.9" cy="152.9" r="3.45"/><circle cx="368.2" cy="152.9" r="3.45"/><circle cx="385.5" cy="152.9" r="3.45"/><circle cx="402.8" cy="152.9" r="3.45"/><circle cx="420.1" cy="152.9" r="3.45"/><circle cx="437.4" cy="152.9" r="3.45"/><circle cx="454.7" cy="152.9" r="3.45"/><circle cx="472.0" cy="152.9" r="3.45"/><circle cx="489.2" cy="152.9" r="3.45"/><circle cx="506.5" cy="152.9" r="3.45"/><circle cx="523.8" cy="152.9" r="3.45"/><circle cx="541.1" cy="152.9" r="3.45"/><circle cx="558.4" cy="152.9" r="3.45"/><circle cx="575.7" cy="152.9" r="3.45"/><circle cx="593.0" cy="152.9" r="3.45"/><circle cx="610.3" cy="152.9" r="3.45"/><circle cx="627.6" cy="152.9" r="3.45"/><circle cx="644.9" cy="152.9" r="3.45"/><circle cx="662.1" cy="152.9" r="3.45"/><circle cx="679.4" cy="152.9" r="3.45"/><circle cx="696.7" cy="152.9" r="3.45"/><circle cx="714.0" cy="152.9" r="3.45"/><circle cx="731.3" cy="152.9" r="3.45"/><circle cx="748.6" cy="152.9" r="3.45"/><circle cx="765.9" cy="152.9" r="3.45"/><circle cx="783.2" cy="152.9" r="3.45"/><circle cx="800.5" cy="152.9" r="3.45"/><circle cx="817.8" cy="152.9" r="3.45"/><circle cx="835.0" cy="152.9" r="3.45"/><circle cx="852.3" cy="152.9" r="3.45"/><circle cx="869.6" cy="152.9" r="3.45"/><circle cx="886.9" cy="152.9" r="3.45"/><circle cx="904.2" cy="152.9" r="3.45"/><circle cx="921.5" cy="152.9" r="3.45"/><circle cx="938.8" cy="152.9" r="3.45"/><circle cx="956.1" cy="152.9" r="3.45"/><circle cx="973.4" cy="152.9" r="3.45"/><circle cx="990.7" cy="152.9" r="3.45"/><circle cx="1007.9" cy="152.9" r="3.45"/><circle cx="1025.2" cy="152.9" r="3.45"/><circle cx="1042.5" cy="152.9" r="3.45"/><circle cx="1059.8" cy="152.9" r="3.45"/></g>
<line x1="208.1" y1="97.4" x2="208.1" y2="359.2" stroke="#000" stroke-width="1.6" stroke-dasharray="5.6 2.4" stroke-dashoffset="0"/>
<path d="M127.4 212.1C129.2 213.1 130.9 211.6 135.0 216.4C139.1 221.2 140.3 223.9 145.0 232.7C149.7 241.5 150.9 246.7 155.0 254.0C159.1 261.3 159.4 260.9 162.6 264.0C165.8 267.1 165.4 267.0 168.9 267.3C172.4 267.6 173.8 267.0 177.6 265.3C181.4 263.6 181.1 264.9 185.2 260.2C189.3 255.5 191.1 250.6 195.2 245.2C199.3 239.8 199.8 239.4 202.7 237.2C205.6 235.0 205.1 235.3 207.7 235.7C210.3 236.1 211.1 235.6 214.0 239.0C216.9 242.4 217.1 244.4 220.3 250.2C223.5 256.0 224.3 259.0 227.8 264.0C231.3 269.0 231.8 268.7 235.3 271.5C238.8 274.3 238.7 273.1 242.8 276.0C246.9 278.9 247.5 279.9 252.8 283.8C258.1 287.7 259.0 288.9 265.4 292.6C271.8 296.3 274.6 296.7 280.4 299.6C286.2 302.5 286.0 303.2 290.4 305.1C294.8 307.0 295.4 307.9 299.2 307.6C303.0 307.3 303.5 306.8 306.7 303.9C309.9 301.0 309.8 301.2 313.0 295.1C316.2 289.0 317.0 285.7 320.5 277.6C324.0 269.5 324.5 268.0 328.0 260.2C331.5 252.4 332.6 248.9 335.5 244.0C338.4 239.1 338.4 240.7 340.6 239.4C342.8 238.1 342.5 238.2 344.8 238.4C347.1 238.6 347.5 237.4 350.6 240.2C353.7 243.0 353.9 244.4 358.0 250.2C362.1 256.0 363.3 259.3 368.0 265.2C372.7 271.1 373.4 270.7 378.0 275.3C382.6 279.9 382.9 280.7 387.5 285.0C392.1 289.3 391.6 290.0 397.5 293.8C403.4 297.6 405.6 298.5 412.6 301.4C419.6 304.3 421.8 304.5 427.6 306.4C433.4 308.3 433.8 309.4 437.6 309.4C441.4 309.4 441.0 309.4 443.9 306.4C446.8 303.4 447.0 302.6 450.2 296.4C453.4 290.2 453.9 288.4 457.7 280.0C461.5 271.6 463.0 268.0 466.5 260.2C470.0 252.4 470.1 250.9 472.7 246.5C475.3 242.1 475.3 242.9 477.7 241.4C480.1 239.9 480.2 239.8 482.8 240.2C485.4 240.6 485.8 239.7 489.0 243.2C492.2 246.7 492.9 250.0 496.5 255.2C500.1 260.4 500.7 261.2 504.5 265.5C508.3 269.8 507.9 269.5 512.8 273.8C517.7 278.1 519.0 278.8 525.4 283.8C531.8 288.8 533.4 290.1 540.4 295.1C547.4 300.1 549.0 301.6 555.4 305.1C561.8 308.6 563.0 308.4 568.0 310.1C573.0 311.9 573.2 312.9 576.7 312.6C580.2 312.3 579.8 312.7 583.0 308.9C586.2 305.1 586.4 304.3 590.5 296.4C594.6 288.5 596.8 283.1 600.6 275.2C604.4 267.3 604.2 267.6 606.8 262.7C609.4 257.8 609.5 257.0 611.8 254.0C614.1 251.0 614.7 250.9 616.8 249.7C618.9 248.5 618.2 248.8 620.6 249.0C623.0 249.2 623.4 248.4 626.9 250.7C630.4 253.0 632.1 255.4 635.6 259.0C639.1 262.6 639.0 263.2 641.9 266.3C644.8 269.4 644.8 270.2 648.2 272.5C651.6 274.8 651.8 272.9 656.3 276.1C660.8 279.3 662.1 281.9 667.6 286.3C673.1 290.7 674.2 291.7 680.0 295.0C685.8 298.3 686.7 298.6 692.6 300.6C698.5 302.6 700.5 302.6 705.2 303.4C709.9 304.2 709.2 304.2 712.7 303.9C716.2 303.6 717.0 303.6 720.2 302.1C723.4 300.6 723.0 301.6 726.5 297.6C730.0 293.6 730.8 291.7 735.2 285.0C739.6 278.3 740.9 274.6 745.3 268.8C749.7 263.0 750.6 262.6 754.0 260.3C757.4 258.0 756.9 258.7 759.8 258.9C762.7 259.1 763.2 259.0 766.6 261.0C770.0 263.0 770.7 264.3 774.5 267.6C778.3 270.9 779.2 272.7 782.9 275.0C786.6 277.3 786.3 276.1 790.4 277.6C794.5 279.1 795.1 278.5 800.4 281.3C805.7 284.1 807.7 286.5 813.0 289.6C818.3 292.7 818.9 293.1 823.0 294.6C827.1 296.1 826.4 295.5 830.5 295.9C834.6 296.2 835.8 296.3 840.5 296.1C845.2 295.9 846.4 295.9 850.5 295.1C854.6 294.3 854.5 294.7 858.0 292.6C861.5 290.5 861.6 290.9 865.6 286.3C869.6 281.7 870.7 279.0 875.2 273.0C879.7 267.0 880.3 264.7 885.0 260.5C889.7 256.3 891.1 256.0 895.2 254.8C899.3 253.6 898.6 253.7 902.5 255.5C906.4 257.3 906.4 257.7 912.0 262.6C917.6 267.5 921.5 272.5 926.7 276.3C931.9 280.1 930.1 276.9 934.2 278.8C938.3 280.7 940.4 282.7 944.2 284.6C948.0 286.5 947.0 286.9 950.5 287.0C954.0 287.1 955.4 286.3 959.2 285.0C963.0 283.7 962.7 282.3 966.8 281.3C970.9 280.3 971.5 280.5 976.8 280.8C982.0 281.1 984.6 282.6 989.3 282.6C994.0 282.6 993.0 282.9 996.8 280.8C1000.6 278.7 1001.3 277.5 1005.5 273.5C1009.7 269.5 1010.4 268.4 1014.8 263.5C1019.2 258.6 1020.7 256.4 1024.4 252.7C1028.1 249.0 1028.1 249.1 1030.7 247.7C1033.3 246.3 1033.1 246.5 1035.7 246.5C1038.3 246.5 1038.8 245.9 1042.0 247.7C1045.2 249.4 1045.4 250.8 1049.5 254.0C1053.6 257.2 1054.8 259.0 1059.5 261.5C1064.2 264.0 1064.5 262.6 1069.8 264.8C1075.0 267.0 1076.2 267.9 1082.0 270.8C1087.8 273.7 1091.7 275.7 1094.6 277.2" fill="none" stroke="#f90606" stroke-width="3.2" stroke-linejoin="round" stroke-linecap="butt" clip-path="url(#plotclip)"/>
<g class="d" font-size="17.7" text-anchor="middle" fill="#000"><text x="161.4" y="286.4">11</text><text x="207.2" y="257.4">14</text><text x="299.7" y="329.1">6</text><text x="345.6" y="261.1">14</text><text x="437.6" y="331.1">6</text><text x="483.5" y="263.4">14</text><text x="576.2" y="334.1">5</text><text x="622.4" y="271.1">13</text><text x="708.4" y="326.1">6</text><text x="760.3" y="280.9">12</text><text x="835.5" y="317.8">7</text><text x="899.0" y="277.4">12</text><text x="950.5" y="309.0">8</text><text x="1036.4" y="268.4">13</text><text x="1094.0" y="300.2">10</text></g>
<rect x="127.5" y="97.4" width="967.1" height="261.8" fill="none" stroke="#000" stroke-width="1"/>
<line x1="144.8" y1="359.2" x2="144.8" y2="354.2" stroke="#000" stroke-width="1"/>
<line x1="162.0" y1="359.2" x2="162.0" y2="349.2" stroke="#000" stroke-width="1"/>
<line x1="179.3" y1="359.2" x2="179.3" y2="354.2" stroke="#000" stroke-width="1"/>
<line x1="196.6" y1="359.2" x2="196.6" y2="349.2" stroke="#000" stroke-width="1"/>
<line x1="213.8" y1="359.2" x2="213.8" y2="354.2" stroke="#000" stroke-width="1"/>
<line x1="231.1" y1="359.2" x2="231.1" y2="349.2" stroke="#000" stroke-width="1"/>
<line x1="248.4" y1="359.2" x2="248.4" y2="354.2" stroke="#000" stroke-width="1"/>
<line x1="282.9" y1="359.2" x2="282.9" y2="354.2" stroke="#000" stroke-width="1"/>
<line x1="300.2" y1="359.2" x2="300.2" y2="349.2" stroke="#000" stroke-width="1"/>
<line x1="317.5" y1="359.2" x2="317.5" y2="354.2" stroke="#000" stroke-width="1"/>
<line x1="334.7" y1="359.2" x2="334.7" y2="349.2" stroke="#000" stroke-width="1"/>
<line x1="352.0" y1="359.2" x2="352.0" y2="354.2" stroke="#000" stroke-width="1"/>
<line x1="369.3" y1="359.2" x2="369.3" y2="349.2" stroke="#000" stroke-width="1"/>
<line x1="386.5" y1="359.2" x2="386.5" y2="354.2" stroke="#000" stroke-width="1"/>
<line x1="421.1" y1="359.2" x2="421.1" y2="354.2" stroke="#000" stroke-width="1"/>
<line x1="438.4" y1="359.2" x2="438.4" y2="349.2" stroke="#000" stroke-width="1"/>
<line x1="455.6" y1="359.2" x2="455.6" y2="354.2" stroke="#000" stroke-width="1"/>
<line x1="472.9" y1="359.2" x2="472.9" y2="349.2" stroke="#000" stroke-width="1"/>
<line x1="490.2" y1="359.2" x2="490.2" y2="354.2" stroke="#000" stroke-width="1"/>
<line x1="507.4" y1="359.2" x2="507.4" y2="349.2" stroke="#000" stroke-width="1"/>
<line x1="524.7" y1="359.2" x2="524.7" y2="354.2" stroke="#000" stroke-width="1"/>
<line x1="559.2" y1="359.2" x2="559.2" y2="354.2" stroke="#000" stroke-width="1"/>
<line x1="576.5" y1="359.2" x2="576.5" y2="349.2" stroke="#000" stroke-width="1"/>
<line x1="593.8" y1="359.2" x2="593.8" y2="354.2" stroke="#000" stroke-width="1"/>
<line x1="611.0" y1="359.2" x2="611.0" y2="349.2" stroke="#000" stroke-width="1"/>
<line x1="628.3" y1="359.2" x2="628.3" y2="354.2" stroke="#000" stroke-width="1"/>
<line x1="645.6" y1="359.2" x2="645.6" y2="349.2" stroke="#000" stroke-width="1"/>
<line x1="662.9" y1="359.2" x2="662.9" y2="354.2" stroke="#000" stroke-width="1"/>
<line x1="697.4" y1="359.2" x2="697.4" y2="354.2" stroke="#000" stroke-width="1"/>
<line x1="714.7" y1="359.2" x2="714.7" y2="349.2" stroke="#000" stroke-width="1"/>
<line x1="731.9" y1="359.2" x2="731.9" y2="354.2" stroke="#000" stroke-width="1"/>
<line x1="749.2" y1="359.2" x2="749.2" y2="349.2" stroke="#000" stroke-width="1"/>
<line x1="766.5" y1="359.2" x2="766.5" y2="354.2" stroke="#000" stroke-width="1"/>
<line x1="783.7" y1="359.2" x2="783.7" y2="349.2" stroke="#000" stroke-width="1"/>
<line x1="801.0" y1="359.2" x2="801.0" y2="354.2" stroke="#000" stroke-width="1"/>
<line x1="835.6" y1="359.2" x2="835.6" y2="354.2" stroke="#000" stroke-width="1"/>
<line x1="852.8" y1="359.2" x2="852.8" y2="349.2" stroke="#000" stroke-width="1"/>
<line x1="870.1" y1="359.2" x2="870.1" y2="354.2" stroke="#000" stroke-width="1"/>
<line x1="887.4" y1="359.2" x2="887.4" y2="349.2" stroke="#000" stroke-width="1"/>
<line x1="904.6" y1="359.2" x2="904.6" y2="354.2" stroke="#000" stroke-width="1"/>
<line x1="921.9" y1="359.2" x2="921.9" y2="349.2" stroke="#000" stroke-width="1"/>
<line x1="939.2" y1="359.2" x2="939.2" y2="354.2" stroke="#000" stroke-width="1"/>
<line x1="973.7" y1="359.2" x2="973.7" y2="354.2" stroke="#000" stroke-width="1"/>
<line x1="991.0" y1="359.2" x2="991.0" y2="349.2" stroke="#000" stroke-width="1"/>
<line x1="1008.3" y1="359.2" x2="1008.3" y2="354.2" stroke="#000" stroke-width="1"/>
<line x1="1025.5" y1="359.2" x2="1025.5" y2="349.2" stroke="#000" stroke-width="1"/>
<line x1="1042.8" y1="359.2" x2="1042.8" y2="354.2" stroke="#000" stroke-width="1"/>
<line x1="1060.1" y1="359.2" x2="1060.1" y2="349.2" stroke="#000" stroke-width="1"/>
<line x1="1077.3" y1="359.2" x2="1077.3" y2="354.2" stroke="#000" stroke-width="1"/>
<g class="d" font-size="17.4" text-anchor="middle" fill="#000">
<text x="161.0" y="376.8">06</text>
<text x="195.6" y="376.8">12</text>
<text x="230.1" y="376.8">18</text>
<text x="264.7" y="376.8">tor</text>
<text x="299.2" y="376.8">06</text>
<text x="333.7" y="376.8">12</text>
<text x="368.3" y="376.8">18</text>
<text x="402.8" y="376.8">sre</text>
<text x="437.4" y="376.8">06</text>
<text x="471.9" y="376.8">12</text>
<text x="506.4" y="376.8">18</text>
<text x="541.0" y="376.8">čet</text>
<text x="575.5" y="376.8">06</text>
<text x="610.0" y="376.8">12</text>
<text x="644.6" y="376.8">18</text>
<text x="679.1" y="376.8">pet</text>
<text x="713.7" y="376.8">06</text>
<text x="748.2" y="376.8">12</text>
<text x="782.7" y="376.8">18</text>
<text x="817.3" y="376.8">sob</text>
<text x="851.8" y="376.8">06</text>
<text x="886.4" y="376.8">12</text>
<text x="920.9" y="376.8">18</text>
<text x="955.4" y="376.8">ned</text>
<text x="990.0" y="376.8">06</text>
<text x="1024.5" y="376.8">12</text>
<text x="1059.1" y="376.8">18</text>
</g>
<text class="a" x="10" y="22" font-size="16" fill="#0000ff">(kraj lahko izberete v meniju)</text>
<text class="a" x="1143.3" y="22" font-size="16" fill="#0000ff" text-anchor="end">Zadnja posodobitev: 03.11.2025 - 14:09</text>
<text class="a" x="399.6" y="36.5" font-size="23.9" fill="#0000ff">Zagreb 7 dni</text>
<g class="d" font-size="17.7" text-anchor="middle">
<text x="196.3" y="68.8" fill="#000" font-size="17.85">ponedeljek</text>
<text x="195.8" y="89.6" fill="#000">03.11</text>
<text x="334.4" y="68.8" fill="#000" font-size="17.85">torek</text>
<text x="333.9" y="89.6" fill="#000">04.11</text>
<text x="472.6" y="68.8" fill="#000" font-size="17.85">sreda</text>
<text x="472.1" y="89.6" fill="#000">05.11</text>
<text x="610.8" y="68.8" fill="#000" font-size="17.85">četrtek</text>
<text x="610.2" y="89.6" fill="#000">06.11</text>
<text x="748.9" y="68.8" fill="#000" font-size="17.85">petek</text>
<text x="748.4" y="89.6" fill="#000">07.11</text>
<text x="887.1" y="68.8" fill="#cc0000" font-size="17.85">sobota</text>
<text x="886.6" y="89.6" fill="#cc0000">08.11</text>
<text x="1025.2" y="68.8" fill="#cc0000" font-size="17.85">nedelja</text>
<text x="1024.7" y="89.6" fill="#cc0000">09.11</text>
</g>
<g class="d" font-size="17.7" fill="#ff0000">
<text x="45.4" y="365.8">0</text>
<text x="45.4" y="328.8">4</text>
<text x="45.4" y="290.6">9</text>
<text x="45.4" y="253.5">13</text>
<text x="45.4" y="216.3">18</text>
<text x="45.4" y="179.2">22</text>
</g>
<text class="d" font-size="19.3" fill="#ff0000" text-anchor="middle" transform="translate(35 267.3) scale(1.07 1) rotate(-90)">Temperatura (°C)</text>
<rect x="80" y="55" width="30" height="367.5" fill="#fff"/>
<text class="d" font-size="19.4" fill="#000" text-anchor="middle" transform="translate(99.9 263.5) scale(1.07 1) rotate(-90)">Padavine (mm/h)</text>
<g stroke="#111" stroke-width="1.4" fill="none" stroke-linecap="butt"><path d="M77.2 178L80 176.2"/><path d="M77.7 190L80 188.9M77.7 193.4L80 192.3"/><path d="M77 236.7L80 234.7"/><path d="M78.2 271h1.8M78.2 277.8h1.8M78.2 295.9h1.8M78.2 301.5h1.8M78.2 317.3h1.8"/><path d="M80 350.8C77.8 351 77.6 353.6 78.6 355"/></g>
<g class="d" font-size="17.7" fill="#000" text-anchor="end">
<text x="122.5" y="366.6">0</text>
<text x="122.5" y="318.6">4</text>
<text x="122.5" y="271.7">8</text>
<text x="122.5" y="224.7">2</text>
</g>
<g class="d" font-size="17.7" fill="#000">
<text x="1098.4" y="366.0">0</text>
<text x="1098.4" y="326.2">1.5</text>
<text x="1098.4" y="290.6">3.5</text>
<text x="1098.4" y="252.6">6.0</text>
<text x="1098.4" y="215.6">9.0</text>
<text x="1098.4" y="179.2">14</text>
</g>
<text class="d" font-size="19.5" fill="#000" text-anchor="middle" transform="translate(1144.9 254.6) scale(1.07 1) rotate(-90)">Višina oblakov (km)</text>
<rect x="127" y="390.3" width="32" height="10.8" fill="#0050f0"/>
<rect x="165.3" y="385.7" width="104.7" height="20" fill="#fff"/>
<text class="a" x="169.2" y="402.4" font-size="19.9" fill="#000" stroke="#000" stroke-width="0.25">Dež</text>
<rect x="277.8" y="390.3" width="32.4" height="10.8" fill="#10d8c8"/>
<rect x="310.2" y="385.7" width="110" height="20" fill="#fff"/>
<text class="a" x="318.6" y="402.4" font-size="19.7" fill="#000" stroke="#000" stroke-width="0.25">Možnost ploh</text>
<text class="a" x="499.5" y="401.5" font-size="16" fill="#0000ff">© vreme.us &amp; vreme.pro</text>
<rect x="759" y="385.7" width="181.7" height="20" fill="#fff"/>
<text class="a" x="759.5" y="402.4" font-size="19.45" fill="#000" stroke="#000" stroke-width="0.25">Gostota oblakov (%)</text>
<rect x="949.30" y="385.3" width="29.36" height="13.2" fill="#d2d2d2"/>
<rect x="978.36" y="385.3" width="29.36" height="13.2" fill="#b0b0b0"/>
<rect x="1007.42" y="385.3" width="29.36" height="13.2" fill="#909090"/>
<rect x="1036.48" y="385.3" width="29.36" height="13.2" fill="#727272"/>
<rect x="1065.54" y="385.3" width="29.36" height="13.2" fill="#555555"/>
<rect x="949.3" y="385.3" width="145.3" height="13.2" fill="none" stroke="#000" stroke-width="1"/>
<g class="d" font-size="15" text-anchor="middle" fill="#000">
<text x="949.3" y="414.6">10</text>
<text x="978.4" y="414.6">25</text>
<text x="1007.4" y="414.6">50</text>
<text x="1036.5" y="414.6">75</text>
<text x="1065.5" y="414.6">90</text>
<text x="1094.6" y="414.6">100</text>
</g>
</svg></body></html>
